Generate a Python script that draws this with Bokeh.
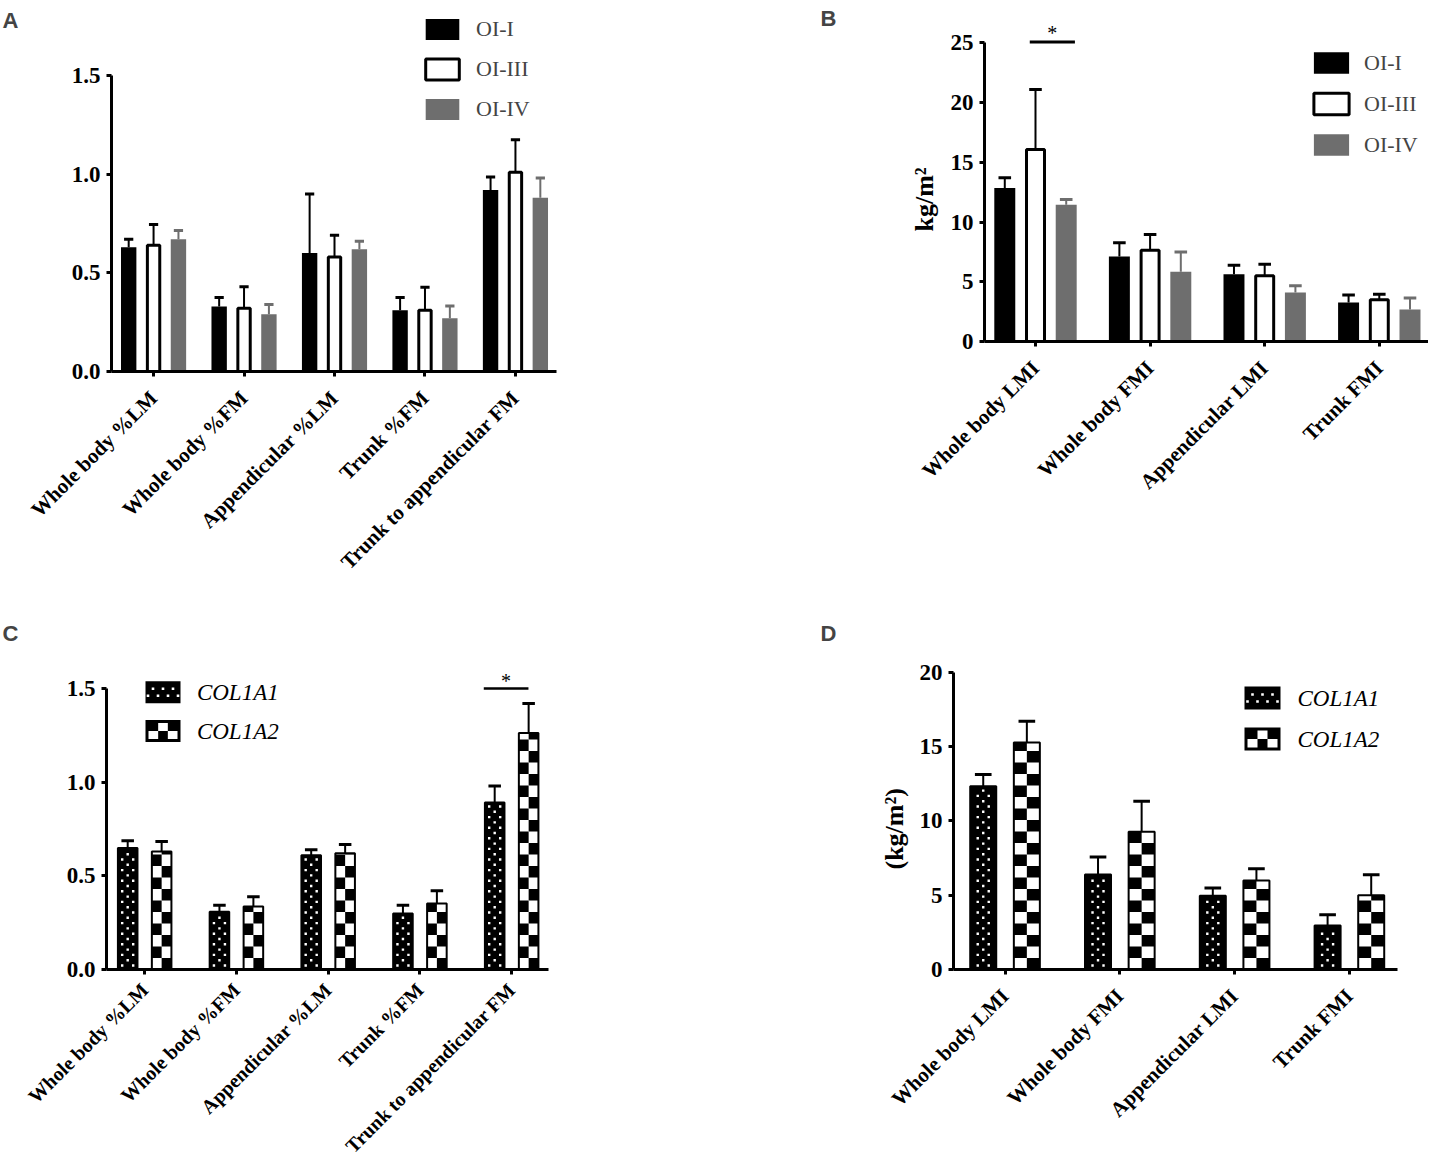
from math import pi
import numpy as np
from bokeh.plotting import figure
from bokeh.models import (Range1d, FixedTicker, PrintfTickFormatter, Legend, LegendItem,
                          Label, Title, ColumnDataSource)
from bokeh.layouts import row, column
from bokeh.embed import file_html
from bokeh.resources import INLINE
from bokeh.core.properties import value

# ---------------- data ----------------
pct_categories = ["Whole body %LM", "Whole body %FM", "Appendicular %LM",
                  "Trunk %FM", "Trunk to appendicular FM"]
index_categories = ["Whole body LMI", "Whole body FMI", "Appendicular LMI", "Trunk FMI"]

oi_series = ["OI-I", "OI-III", "OI-IV"]
a_oi1_mean = [0.63, 0.33, 0.60, 0.31, 0.92]
a_oi1_err = [0.04, 0.045, 0.30, 0.065, 0.065]
a_oi3_mean = [0.64, 0.32, 0.58, 0.31, 1.01]
a_oi3_err = [0.105, 0.11, 0.11, 0.117, 0.165]
a_oi4_mean = [0.67, 0.29, 0.62, 0.27, 0.88]
a_oi4_err = [0.045, 0.05, 0.04, 0.062, 0.10]

b_oi1_mean = [12.86, 7.11, 5.63, 3.26]
b_oi1_err = [0.86, 1.15, 0.76, 0.64]
b_oi3_mean = [16.07, 7.64, 5.50, 3.49]
b_oi3_err = [5.02, 1.31, 0.97, 0.47]
b_oi4_mean = [11.44, 5.83, 4.10, 2.68]
b_oi4_err = [0.44, 1.67, 0.56, 0.97]

gene_series = ["COL1A1", "COL1A2"]
c_a1_mean = [0.648, 0.308, 0.610, 0.299, 0.891]
c_a1_err = [0.039, 0.035, 0.029, 0.044, 0.089]
c_a2_mean = [0.630, 0.336, 0.621, 0.352, 1.263]
c_a2_err = [0.053, 0.052, 0.046, 0.068, 0.157]

d_a1_mean = [12.33, 6.39, 4.96, 2.96]
d_a1_err = [0.79, 1.17, 0.53, 0.72]
d_a2_mean = [15.27, 9.26, 5.99, 5.00]
d_a2_err = [1.43, 2.06, 0.78, 1.37]

y_ticks_ratio = [0, 0.5, 1.0, 1.5]
y_ticks_b = [0, 5, 10, 15, 20, 25]
y_ticks_d = [0, 5, 10, 15, 20]

# ---------------- style ----------------
SERIF = "Liberation Serif"
SANS = "Liberation Sans"
GREY = "#6e6e6e"

# frame geometry in page pixels (fl: frame left, fb: frame bottom)
geoA = dict(fl=111, fb=371, fw=739, fh=371, xr=(-0.465, 7.7035), yr=(0, 1.880), mb=(91, 0, 0, 241))
geoB = dict(fl=984, fb=341, fw=444, fh=341, xr=(-0.445, 3.4294), yr=(0, 28.55), mb=(134, 0, 0, 271))
geoC = dict(fl=106, fb=969, fw=744, fh=357, xr=(-0.416, 7.693), yr=(0, 1.9057), mb=(86, 0, 0, 201))
geoD = dict(fl=953, fb=969, fw=444, fh=357, xr=(-0.449, 3.419), yr=(0, 24.016), mb=(103, 31, 0, 201))


def kxy(geo):
    return ((geo["xr"][1] - geo["xr"][0]) / geo["fw"], (geo["yr"][1] - geo["yr"][0]) / geo["fh"])


def to_data(geo, px, py):
    kx, ky = kxy(geo)
    return geo["xr"][0] + (px - geo["fl"]) * kx, geo["yr"][0] + (geo["fb"] - py) * ky


def make_panel(geo, cats, xbounds, ybounds, yticks, yfmt, xfont="21px", xstand=18):
    p = figure(frame_width=geo["fw"], frame_height=geo["fh"],
               x_range=Range1d(*geo["xr"]), y_range=Range1d(*geo["yr"]),
               min_border_left=geo["mb"][0], min_border_right=geo["mb"][1],
               min_border_top=geo["mb"][2], min_border_bottom=geo["mb"][3],
               output_backend="svg", toolbar_location=None, tools="")
    p.outline_line_color = None
    p.grid.visible = False
    for ax in (p.xaxis[0], p.yaxis[0]):
        ax.axis_line_width = 3
        ax.axis_line_color = "black"
        ax.major_tick_line_width = 3
        ax.major_tick_line_color = "black"
        ax.major_tick_in = 0
        ax.major_tick_out = 5
        ax.minor_tick_line_color = None
        ax.major_label_text_font = SERIF
        ax.major_label_text_font_style = "bold"
        ax.major_label_text_color = "black"
    p.yaxis.major_label_text_font_size = "23px"
    p.yaxis.major_label_standoff = 6
    p.yaxis.bounds = ybounds
    p.yaxis.ticker = FixedTicker(ticks=yticks)
    p.yaxis.formatter = PrintfTickFormatter(format=yfmt)
    p.xaxis.bounds = xbounds
    p.xaxis.ticker = FixedTicker(ticks=list(range(len(cats))))
    p.xaxis.major_label_overrides = {i: c for i, c in enumerate(cats)}
    p.xaxis.major_label_orientation = pi / 4
    p.xaxis.major_label_text_font_size = xfont
    p.xaxis.major_label_standoff = xstand
    return p


def strip(height, letter, top_px):
    s = figure(frame_width=20, frame_height=height, x_range=Range1d(0, 20), y_range=Range1d(0, height),
               min_border_left=0, min_border_right=0, min_border_top=0, min_border_bottom=0,
               x_axis_location=None, y_axis_location=None,
               output_backend="svg", toolbar_location=None, tools="")
    s.outline_line_color = None
    s.grid.visible = False
    s.add_layout(Label(x=2, y=height - top_px, text=letter, text_font=SANS, text_font_style="bold",
                       text_font_size="22px", text_align="left", text_baseline="top"))
    return s


def letter(p, geo, txt, px, py):
    x, y = to_data(geo, px, py)
    p.add_layout(Label(x=x, y=y, text=txt, text_font=SANS, text_font_style="bold",
                       text_font_size="22px", text_align="left", text_baseline="top"))


def bars(p, x, top, width, **kw):
    src = ColumnDataSource(dict(x=list(x), top=list(top)))
    return p.vbar(x="x", top="top", bottom=0, width=width, source=src, **kw)


def errs(p, x, mean, err, cap, color):
    x = np.asarray(x, dtype=float)
    m = np.asarray(mean, dtype=float)
    hi = m + np.asarray(err, dtype=float)
    p.segment(x0=x, y0=m, x1=x, y1=hi, line_color=color, line_width=2)
    p.segment(x0=x - cap / 2, y0=hi, x1=x + cap / 2, y1=hi, line_color=color, line_width=3)


def oi_legend(p, rends, loc, gw, gh, spacing, standoff):
    lg = Legend(items=[LegendItem(label=t, renderers=[r]) for t, r in zip(oi_series, rends)],
                location=loc, orientation="vertical", glyph_width=gw, glyph_height=gh,
                spacing=int(spacing), label_standoff=standoff, padding=0, margin=0,
                border_line_color=None, background_fill_alpha=0,
                label_text_font=SERIF, label_text_font_size="22px", label_height=gh)
    p.add_layout(lg)


def dot_fill(p, geo, xcs, w, tops, step=11.0, rstep=5.3, margin=3.0):
    kx, ky = kxy(geo)
    half = w / 2 / kx
    xs, ys = [], []
    for xc, top in zip(xcs, tops):
        hpx = top / ky
        k, ypx = 0, 4.0
        while ypx < hpx - margin:
            offs = [-0.5 * step, 0.5 * step] if k % 2 == 0 else [-step, 0.0, step]
            for o in offs:
                if abs(o) <= half - margin:
                    xs.append(xc + o * kx)
                    ys.append(ypx * ky)
            ypx += rstep
            k += 1
    p.scatter(x=xs, y=ys, marker="square", size=2.4, fill_color="white", line_color=None)


def checker_fill(p, geo, xcs, w, tops, cell=11.5, ncol=2):
    kx, ky = kxy(geo)
    ch = cell * ky
    cw = w / ncol
    L, R, B, T = [], [], [], []
    for xc, top in zip(xcs, tops):
        r = 0
        while r * ch < top:
            for c in range(ncol):
                if (r + c) % 2 == 1:
                    L.append(xc - w / 2 + c * cw)
                    R.append(xc - w / 2 + (c + 1) * cw)
                    B.append(r * ch)
                    T.append(min((r + 1) * ch, top))
            r += 1
    p.quad(left=L, right=R, bottom=B, top=T, fill_color="black", line_color=None)


def gene_bars(p, geo, x, off, w, m1, e1, m2, e2):
    x1 = x - off
    x2 = x + off
    bars(p, x1, m1, w, fill_color="black", line_color=None)
    dot_fill(p, geo, x1, w, m1)
    bars(p, x1, m1, w, fill_color=None, line_color="black", line_width=2)
    bars(p, x2, m2, w, fill_color="white", line_color=None)
    checker_fill(p, geo, x2, w, m2)
    bars(p, x2, m2, w, fill_color=None, line_color="black", line_width=2)
    errs(p, x1, m1, e1, w * 0.64, "black")
    errs(p, x2, m2, e2, w * 0.64, "black")


def gene_legend(p, geo, cx, cys, tx, sw, sh):
    pts = [to_data(geo, cx, cy) for cy in cys]
    p.rect(x=[q[0] for q in pts], y=[q[1] for q in pts], width=sw, height=sh,
           width_units="screen", height_units="screen", fill_color="black", line_color=None)
    # dotted swatch (COL1A1)
    dx, dy = [], []
    for ry, offs in ((-3.5, (-10, 0, 10)), (3.5, (-15, -5, 5, 15))):
        for o in offs:
            q = to_data(geo, cx + o, cys[0] + ry)
            dx.append(q[0])
            dy.append(q[1])
    p.scatter(x=dx, y=dy, marker="square", size=2.6, fill_color="white", line_color=None)
    # checkered swatch (COL1A2)
    inner_w, inner_h = sw - 6, sh - 6
    cw, chh = inner_w / 3, inner_h / 2
    L, R, B, T = [], [], [], []
    for (rr, cc) in ((0, 1), (1, 0), (1, 2)):
        left_px = cx - inner_w / 2 + cc * cw
        top_px = cys[1] - inner_h / 2 + rr * chh
        l, t = to_data(geo, left_px, top_px)
        r_, b = to_data(geo, left_px + cw, top_px + chh)
        L.append(l); R.append(r_); B.append(b); T.append(t)
    p.quad(left=L, right=R, bottom=B, top=T, fill_color="white", line_color=None)
    tpts = [to_data(geo, tx, cy) for cy in cys]
    p.text(x=[q[0] for q in tpts], y=[q[1] for q in tpts], text=gene_series,
           text_font=value(SERIF), text_font_style="italic", text_font_size="23px",
           text_baseline="middle", text_align="left", text_color="black")


def sig(p, geo, x0, x1, y, star_dy_px, lw):
    kx, ky = kxy(geo)
    p.segment(x0=[x0], y0=[y], x1=[x1], y1=[y], line_color="black", line_width=lw)
    p.text(x=[(x0 + x1) / 2], y=[y + star_dy_px * ky], text=["*"], text_font=value(SERIF),
           text_font_size="20px", text_align="center", text_baseline="middle", text_color="black")


def ylab_title(p, txt, offset, standoff):
    p.add_layout(Title(text=txt, align="left", offset=offset, standoff=standoff,
                       text_font=SERIF, text_font_style="bold", text_font_size="26px",
                       text_color="black"), "left")


# ---------------- panel A ----------------
pA = make_panel(geoA, pct_categories, (-0.465, 4.454), (0, 1.5), y_ticks_ratio, "%.1f")
xa = np.arange(len(pct_categories))
offA, wA = 0.275, 0.17
rA1 = bars(pA, xa - offA, a_oi1_mean, wA, fill_color="black", line_color=None)
rA3 = bars(pA, xa, a_oi3_mean, wA - 3 * kxy(geoA)[0], fill_color="white", line_color="black", line_width=3)
rA4 = bars(pA, xa + offA, a_oi4_mean, wA, fill_color=GREY, line_color=None)
errs(pA, xa - offA, a_oi1_mean, a_oi1_err, wA * 0.6, "black")
errs(pA, xa, a_oi3_mean, a_oi3_err, wA * 0.6, "black")
errs(pA, xa + offA, a_oi4_mean, a_oi4_err, wA * 0.6, GREY)
oi_legend(pA, [rA1, rA3, rA4], (310, 249), 42, 26, 14, 13)
letter(pA, geoA, "B", 820, 5)

# ---------------- panel B ----------------
pB = make_panel(geoB, index_categories, (-0.445, 3.4294), (0, 25), y_ticks_b, "%d")
xb = np.arange(len(index_categories))
offB, wB = 0.268, 0.183
rB1 = bars(pB, xb - offB, b_oi1_mean, wB, fill_color="black", line_color=None)
rB3 = bars(pB, xb, b_oi3_mean, wB - 3 * kxy(geoB)[0], fill_color="white", line_color="black", line_width=3)
rB4 = bars(pB, xb + offB, b_oi4_mean, wB, fill_color=GREY, line_color=None)
errs(pB, xb - offB, b_oi1_mean, b_oi1_err, wB * 0.6, "black")
errs(pB, xb, b_oi3_mean, b_oi3_err, wB * 0.6, "black")
errs(pB, xb + offB, b_oi4_mean, b_oi4_err, wB * 0.6, GREY)
oi_legend(pB, [rB1, rB3, rB4], (325, 183), 44, 27, 14, 11)
sig(pB, geoB, xb[0] - 0.05, xb[0] + offB + 0.076, 25.07, 9, 3)
ylab_title(pB, "kg/m²", 110, 18)

# ---------------- panel C ----------------
pC = make_panel(geoC, pct_categories, (-0.416, 4.397), (0, 1.5), y_ticks_ratio, "%.1f",
                xfont="20px", xstand=12)
xc = np.arange(len(pct_categories))
gene_bars(pC, geoC, xc, 0.185, 0.235 - 2 * kxy(geoC)[0], c_a1_mean, c_a1_err, c_a2_mean, c_a2_err)
gene_legend(pC, geoC, 162.5, [691.7, 730.5], 196.4, 35, 22)
sig(pC, geoC, xc[4] - 0.304, xc[4] + 0.183, 1.5, 8, 2.5)
letter(pC, geoC, "D", 820, 620)

# ---------------- panel D ----------------
pD = make_panel(geoD, index_categories, (-0.449, 3.419), (0, 20), y_ticks_d, "%d")
xd = np.arange(len(index_categories))
gene_bars(pD, geoD, xd, 0.19, 0.244 - 2 * kxy(geoD)[0], d_a1_mean, d_a1_err, d_a2_mean, d_a2_err)
gene_legend(pD, geoD, 1262, [697.5, 738.5], 1297, 36, 23)
ylab_title(pD, "(kg/m²)", 100, 16)

sA = strip(612, "A", 7)
sC = strip(558, "C", 8)

layout = column(row(sA, pA, pB), row(sC, pC, pD))
open("out.html", "w").write(file_html(layout, INLINE))
